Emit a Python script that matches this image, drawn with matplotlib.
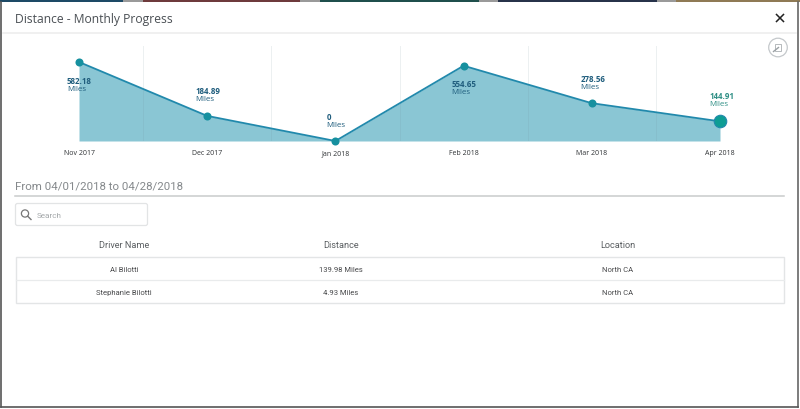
import matplotlib
matplotlib.use('Agg')
from matplotlib import pyplot as plt
import matplotlib.patches as mpatches

months = ['Nov 2017', 'Dec 2017', 'Jan 2018', 'Feb 2018', 'Mar 2018', 'Apr 2018']
miles = [582.18, 184.89, 0, 554.65, 278.56, 144.91]
value_labels = ['582.18', '184.89', '0', '554.65', '278.56', '144.91']

drivers = ['Al Bilotti', 'Stephanie Bilotti']
distances = ['139.98 Miles', '4.93 Miles']
locations = ['North CA', 'North CA']
columns = ['Driver Name', 'Distance', 'Location']

W, H = 800, 410
UI_FONT = 'Open Sans'
TABLE_FONT = 'Roboto'

fig = plt.figure(figsize=(W/100, H/100), dpi=100, facecolor='white')

# background layer in pixel coordinates for the dialog itself
bg = fig.add_axes([0, 0, 1, 1])
bg.set_xlim(0, W)
bg.set_ylim(H, 0)
bg.axis('off')

# page behind the dialog, just visible along the top
strip = [(0, 123, '#1d4a66'), (123, 143, '#9a9a9a'), (143, 300, '#6e3a3c'), (300, 320, '#9a9a9a'),
         (320, 479, '#1f4f4c'), (479, 498, '#9a9a9a'), (498, 657, '#27324a'), (657, 676, '#9a9a9a'),
         (676, 800, '#8f7a55')]
for x0, x1, c in strip:
    bg.add_patch(mpatches.Rectangle((x0, 0), x1-x0, 3, color=c, lw=0))
bg.plot([1, 1], [3, 408], color='#555555', lw=1.2)
bg.plot([797.5, 797.5], [3, 408], color='#666666', lw=1.2)
bg.plot([1, 798], [408, 408], color='#555555', lw=1.2)

bg.text(15, 20, 'Distance - Monthly Progress', fontsize=8.7, color='#4a4f54', family=UI_FONT, va='center')
bg.plot([3, 796], [34, 34], color='#eeeeee', lw=1.2)

# close button
bg.plot([776.5, 783.5], [15.5, 22.5], color='#222222', lw=1.1)
bg.plot([776.5, 783.5], [22.5, 15.5], color='#222222', lw=1.1)

# export icon
bg.add_patch(mpatches.Circle((778, 48.5), 9.3, fill=False, ec='#c4c8cb', lw=0.9))
bg.add_patch(mpatches.Rectangle((775, 45), 6, 7, fill=False, ec='#b5b9bc', lw=0.7))
bg.plot([773.5, 778.5], [52.5, 48.5], color='#9aa0a4', lw=1)

# date range and search box
bg.text(15, 187, 'From 04/01/2018 to 04/28/2018', fontsize=8.25, color='#85898c', family=TABLE_FONT, va='center')
bg.plot([15, 784], [197.3, 197.3], color='#c9cbcc', lw=1.1)
bg.add_patch(mpatches.FancyBboxPatch((15.5, 204.5), 132, 22, boxstyle='round,pad=0,rounding_size=2',
                                     fc='white', ec='#e2e4e5', lw=0.9))
bg.add_patch(mpatches.Circle((25, 214.5), 3.6, fill=False, ec='#777777', lw=0.9))
bg.plot([27.8, 31], [217.3, 220.5], color='#777777', lw=1)
bg.text(36.5, 215.7, 'Search', fontsize=5.9, color='#a4a8aa', family=TABLE_FONT, va='center')

# table
col_x = [124, 341, 617.5]
for cx, name in zip(col_x, columns):
    bg.text(cx, 245.5, name, fontsize=6.6, color='#5a5e61', family=TABLE_FONT, ha='center', va='center')

bg.add_patch(mpatches.Rectangle((15.5, 257.5), 768.5, 46.5, fill=False, ec='#e3e5e6', lw=1))
bg.plot([15.5, 784], [280.5, 280.5], color='#e9ebec', lw=0.9)
for i in range(len(drivers)):
    y = 270.3 + i*23
    bg.text(col_x[0], y, drivers[i], fontsize=5.5, color='#48494b', family=TABLE_FONT, ha='center', va='center')
    bg.text(col_x[1], y, distances[i], fontsize=5.5, color='#48494b', family=TABLE_FONT, ha='center', va='center')
    bg.text(col_x[2], y, locations[i], fontsize=5.5, color='#48494b', family=TABLE_FONT, ha='center', va='center')

# the chart: plot area runs 79-720 px across, 47-142 px down
ax = fig.add_axes([79/W, 1-142/H, (720-79)/W, (142-47)/H])
ax.patch.set_alpha(0)
x = list(range(len(months)))
ax.set_xlim(0, len(months)-1)
ax.set_ylim(0, 700)
for s in ax.spines.values():
    s.set_visible(False)
ax.set_yticks([])
ax.set_xticks(x)
ax.set_xticklabels(months, fontsize=5.0, color='#303336', family=UI_FONT, va='center')
ax.tick_params(axis='x', length=0, pad=8.3)

ax.fill_between(x, miles, 0, color='#8ac6d4', lw=0, zorder=2)

# gridlines sit between the months, faint on white and on the fill
for gx in [0.5, 1.5, 2.5, 3.5, 4.5]:
    ax.axvline(gx, color='#6f8c96', lw=0.7, alpha=0.13, zorder=3)

ax.plot(x, miles, color='#2189ac', lw=1.3, zorder=4, clip_on=False)
ax.plot(x[:-1], miles[:-1], 'o', color='#16909f', ms=5.8, mew=0, zorder=5, clip_on=False)
ax.plot(x[-1:], miles[-1:], 'o', color='#0e9d94', mec='#2189ac', ms=9, mew=0.8, zorder=5, clip_on=False)

# label offsets from each point in px: left edge, centre of the value line (down is positive)
label_dx = [-12, -11.5, -9, -12, -11.5, -11]
label_dy = [18.3, -25, -24.5, 18, -24.5, -25.7]
PX = 0.72
for i in range(len(months)):
    color = '#2f8f85' if i == len(months)-1 else '#1f5d7d'
    ax.annotate(value_labels[i], (x[i], miles[i]), xytext=(label_dx[i]*PX, -label_dy[i]*PX),
                textcoords='offset points', fontsize=5.7, fontweight='bold', color=color,
                family=UI_FONT, va='center', ha='left', zorder=6, annotation_clip=False)
    ax.annotate('Miles', (x[i], miles[i]), xytext=(label_dx[i]*PX, -(label_dy[i]+8)*PX),
                textcoords='offset points', fontsize=5.7, color=color,
                family=UI_FONT, va='center', ha='left', zorder=6, annotation_clip=False)

fig.savefig('out.png', dpi=100)
